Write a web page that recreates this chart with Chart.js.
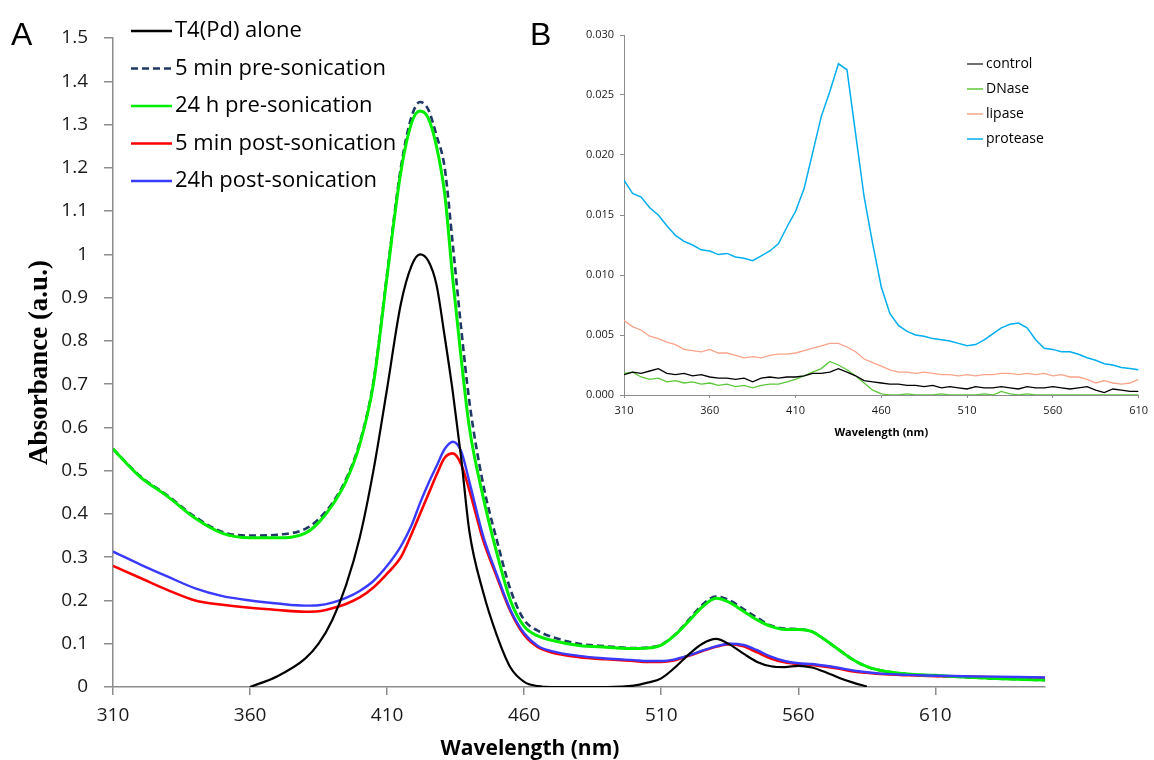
<!DOCTYPE html>
<html>
<head>
<meta charset="utf-8">
<script src="https://cdn.jsdelivr.net/npm/chart.js@4/dist/chart.umd.min.js"></script>
<style>
body { margin: 0; background: #fff; width: 1154px; height: 760px; overflow: hidden; position: relative; }
#wrapA { position: absolute; left: 0; top: 0; width: 1154px; height: 760px; }
#wrapB { position: absolute; left: 560px; top: 15px; width: 594px; height: 430px; }
.panel { position: absolute; top: 18px; font-family: 'Liberation Sans', Arial, sans-serif; font-size: 32px; line-height: 32px; color: #000; }
#xTitleA { position: absolute; left: 380px; top: 737px; width: 300px; text-align: center; font-family: 'Open Sans', sans-serif; font-weight: bold; font-size: 21px; line-height: 21px; color: #000; }
</style>
</head>
<body>
<div id="wrapA"><canvas id="chartA"></canvas></div>
<div id="wrapB"><canvas id="chartB"></canvas></div>
<div class="panel" style="left:11px">A</div>
<div class="panel" style="left:530px">B</div>
<div id="xTitleA">Wavelength (nm)</div>
<script>
// ---- panel A : absorbance spectra ----
var wavelengthA = [
	310, 320, 330, 340, 350, 360, 370, 380,
	385, 390, 395, 400, 405, 410, 415,
	419, 422, 425, 428, 431, 434, 437,
	440, 445, 450, 455, 460, 465, 470,
	480, 490,
	500, 505, 510, 515, 520, 525, 530, 535, 540, 545,
	550, 555, 560, 565, 570, 575, 580, 585, 590,
	600, 610, 620, 630, 640, 650
];
var t4Alone = [
	null, null, null, null, null, 0, 0.025, 0.065,
	0.1, 0.155, 0.235, 0.345, 0.5, 0.69, 0.885,
	0.975, 1.0, 0.985, 0.93, 0.81, 0.68, 0.53,
	0.36, 0.22, 0.12, 0.045, 0.012, 0.002, 0,
	0, 0,
	0.003, 0.01, 0.02, 0.045, 0.075, 0.1, 0.111, 0.098, 0.077, 0.058,
	0.048, 0.046, 0.049, 0.045, 0.034, 0.021, 0.01, 0.001, null,
	null, null, null, null, null, null
];
var pre5min = [
	0.55, 0.487, 0.442, 0.393, 0.358, 0.35, 0.352, 0.365,
	0.388, 0.425, 0.48, 0.565, 0.705, 0.955, 1.2,
	1.32, 1.352, 1.335, 1.275, 1.2, 1.02, 0.83,
	0.66, 0.47, 0.34, 0.225, 0.155, 0.13, 0.116,
	0.1, 0.094,
	0.09, 0.091, 0.098, 0.121, 0.155, 0.19, 0.209, 0.2, 0.18, 0.16,
	0.142, 0.135, 0.134, 0.128, 0.108, 0.085, 0.063, 0.047, 0.038,
	0.03, 0.026, 0.023, 0.02, 0.018, 0.016
];
var pre24h = [
	0.55, 0.485, 0.44, 0.39, 0.355, 0.345, 0.345, 0.355,
	0.38, 0.42, 0.475, 0.56, 0.70, 0.95, 1.19,
	1.305, 1.331, 1.315, 1.25, 1.14, 0.94, 0.76,
	0.6, 0.44, 0.31, 0.2, 0.14, 0.118, 0.108,
	0.096, 0.092,
	0.089, 0.09, 0.097, 0.12, 0.152, 0.185, 0.205, 0.195, 0.175, 0.155,
	0.14, 0.133, 0.133, 0.128, 0.108, 0.085, 0.063, 0.047, 0.038,
	0.03, 0.027, 0.023, 0.02, 0.018, 0.016
];
var post5min = [
	0.28, 0.252, 0.224, 0.2, 0.19, 0.183, 0.178, 0.174,
	0.175, 0.182, 0.192, 0.207, 0.23, 0.262, 0.3,
	0.355, 0.4, 0.445, 0.49, 0.53, 0.54, 0.515,
	0.455, 0.34, 0.255, 0.175, 0.12, 0.092, 0.08,
	0.069, 0.064,
	0.06, 0.058, 0.058, 0.062, 0.072, 0.083, 0.093, 0.099, 0.094, 0.08,
	0.066, 0.057, 0.053, 0.051, 0.047, 0.042, 0.036, 0.033, 0.03,
	0.027, 0.025, 0.024, 0.023, 0.022, 0.021
];
var post24h = [
	0.313, 0.283, 0.255, 0.228, 0.21, 0.2, 0.193, 0.188,
	0.189, 0.195, 0.206, 0.222, 0.245, 0.28, 0.325,
	0.375, 0.425, 0.47, 0.51, 0.55, 0.567, 0.545,
	0.475, 0.35, 0.26, 0.178, 0.124, 0.095, 0.083,
	0.072, 0.066,
	0.062, 0.06, 0.06, 0.064, 0.073, 0.084, 0.094, 0.1, 0.097, 0.085,
	0.07, 0.06, 0.055, 0.053, 0.049, 0.044, 0.038, 0.034, 0.031,
	0.028, 0.026, 0.025, 0.024, 0.023, 0.022
];
var xTicksA = [310, 360, 410, 460, 510, 560, 610];
var yTicksA = [0, 0.1, 0.2, 0.3, 0.4, 0.5, 0.6, 0.7, 0.8, 0.9, 1, 1.1, 1.2, 1.3, 1.4, 1.5];
var yLabelsA = ['0', '0.1', '0.2', '0.3', '0.4', '0.5', '0.6', '0.7', '0.8', '0.9', '1', '1.1', '1.2', '1.3', '1.4', '1.5'];

// ---- panel B : enzyme treatments ----
var wavelengthB = [
	310, 315, 320, 325, 330, 335, 340, 345, 350, 355,
	360, 365, 370, 375, 380, 385, 390, 395, 400, 405,
	410, 415, 420, 425, 430, 435, 440, 445, 450, 455,
	460, 465, 470, 475, 480, 485, 490, 495, 500, 505,
	510, 515, 520, 525, 530, 535, 540, 545, 550, 555,
	560, 565, 570, 575, 580, 585, 590, 595, 600, 605,
	610
];
var control = [
	0.0017, 0.0019, 0.0018, 0.0020, 0.0022, 0.0018, 0.0017, 0.0018, 0.0016, 0.0017,
	0.0015, 0.0014, 0.0014, 0.0013, 0.0014, 0.0011, 0.0014, 0.0015, 0.0014, 0.0015,
	0.0015, 0.0016, 0.0018, 0.0018, 0.0019, 0.0022, 0.0019, 0.0016, 0.0012, 0.0011,
	0.0010, 0.0009, 0.0009, 0.0008, 0.0008, 0.0007, 0.0008, 0.0006, 0.0007, 0.0006,
	0.0005, 0.0007, 0.0006, 0.0006, 0.0007, 0.0006, 0.0005, 0.0007, 0.0006, 0.0006,
	0.0007, 0.0006, 0.0005, 0.0006, 0.0007, 0.0004, 0.0002, 0.0005, 0.0004, 0.0003,
	0.0003
];
var dnase = [
	0.0018, 0.0019, 0.0015, 0.0013, 0.0014, 0.0011, 0.0012, 0.0010, 0.0011, 0.0009,
	0.0010, 0.0008, 0.0009, 0.0007, 0.0008, 0.0006, 0.0008, 0.0009, 0.0009, 0.0011,
	0.0013, 0.0016, 0.0019, 0.0022, 0.0028, 0.0025, 0.0021, 0.0016, 0.0010, 0.0004,
	0.0001, 0, 0, 0.0001, 0, 0, 0, 0.0001, 0, 0,
	0, 0, 0.0001, 0, 0.0003, 0.0001, 0, 0.0001, 0, 0,
	0, 0, 0, 0, 0, 0, 0, 0, 0, 0,
	0
];
var lipase = [
	0.0062, 0.0057, 0.0054, 0.0049, 0.0047, 0.0044, 0.0042, 0.0038, 0.0037, 0.0036,
	0.0038, 0.0035, 0.0035, 0.0033, 0.0031, 0.0032, 0.0031, 0.0033, 0.0034, 0.0034,
	0.0035, 0.0037, 0.0039, 0.0041, 0.0043, 0.0043, 0.0040, 0.0036, 0.0030, 0.0027,
	0.0024, 0.0021, 0.0019, 0.0019, 0.0018, 0.0019, 0.0018, 0.0017, 0.0017, 0.0016,
	0.0017, 0.0016, 0.0017, 0.0017, 0.0018, 0.0018, 0.0017, 0.0018, 0.0017, 0.0018,
	0.0016, 0.0017, 0.0015, 0.0015, 0.0013, 0.0010, 0.0012, 0.0010, 0.0009, 0.0010,
	0.0013
];
var protease = [
	0.0179, 0.0168, 0.0165, 0.0156, 0.0150, 0.0141, 0.0133, 0.0128, 0.0125, 0.0121,
	0.0120, 0.0117, 0.0118, 0.0115, 0.0114, 0.0112, 0.0116, 0.0120, 0.0126, 0.0140,
	0.0153, 0.0172, 0.0202, 0.0232, 0.0253, 0.0276, 0.0271, 0.0218, 0.0165, 0.0126,
	0.0090, 0.0068, 0.0058, 0.0053, 0.0050, 0.0049, 0.0047, 0.0046, 0.0045, 0.0043,
	0.0041, 0.0042, 0.0046, 0.0051, 0.0056, 0.0059, 0.0060, 0.0056, 0.0046, 0.0039,
	0.0038, 0.0036, 0.0036, 0.0034, 0.0031, 0.0029, 0.0026, 0.0025, 0.0023, 0.0022,
	0.0021
];
var xTicksB = [310, 360, 410, 460, 510, 560, 610];
var yTicksB = [0, 0.005, 0.01, 0.015, 0.02, 0.025, 0.03];
var yLabelsB = ['0.000', '0.005', '0.010', '0.015', '0.020', '0.025', '0.030'];

var fontSans = "'Open Sans', 'Noto Sans', sans-serif";
var axisGray = '#8c8c8c';

function points(xs, ys) {
	return xs.map(function (x, i) { return { x: x, y: ys[i] }; });
}

function fixedTicks(list) {
	return function (scale) {
		scale.ticks = list.map(function (v) { return { value: v }; });
	};
}

// legend drawn as short line samples beside the labels, placed from the chart area corner
var lineLegend = {
	id: 'lineLegend',
	afterDraw: function (chart, args, opts) {
		var ctx = chart.ctx;
		var area = chart.chartArea;
		ctx.save();
		ctx.font = opts.font;
		ctx.textBaseline = 'middle';
		chart.data.datasets.forEach(function (ds, i) {
			var x = area.left + opts.x;
			var y = area.top + opts.y + i * opts.gap;
			ctx.beginPath();
			ctx.setLineDash(ds.borderDash || []);
			ctx.strokeStyle = ds.legendColor || ds.borderColor;
			ctx.lineWidth = opts.lineWidth || ds.borderWidth;
			ctx.moveTo(x, y);
			ctx.lineTo(x + opts.len, y);
			ctx.stroke();
			ctx.setLineDash([]);
			ctx.fillStyle = '#000';
			ctx.fillText(ds.label, x + opts.len + opts.pad, y);
		});
		ctx.restore();
	}
};

var chartA = new Chart(document.getElementById('chartA'), {
	type: 'line',
	data: {
		datasets: [
			{ label: 'T4(Pd) alone', data: points(wavelengthA, t4Alone), borderColor: '#000000', borderWidth: 2.2, order: 0 },
			{ label: '5 min pre-sonication', data: points(wavelengthA, pre5min), borderColor: '#1f3864', borderWidth: 2.6, borderDash: [7, 4], order: 4 },
			{ label: '24 h pre-sonication', data: points(wavelengthA, pre24h), borderColor: '#00ee00', borderWidth: 3, order: 2 },
			{ label: '5 min post-sonication', data: points(wavelengthA, post5min), borderColor: '#ff0000', borderWidth: 2.6, order: 3 },
			{ label: '24h post-sonication', data: points(wavelengthA, post24h), borderColor: '#3a3aff', borderWidth: 2.4, order: 1 }
		]
	},
	options: {
		responsive: true,
		maintainAspectRatio: false,
		animation: false,
		layout: { padding: { left: 0, top: 38, right: 109, bottom: 0 } },
		elements: {
			point: { radius: 0 },
			line: { cubicInterpolationMode: 'monotone', fill: false }
		},
		plugins: {
			legend: { display: false },
			tooltip: { enabled: false },
			lineLegend: { x: 18, y: -7, gap: 37.5, len: 41, pad: 3, lineWidth: 2.5, font: '22px ' + fontSans }
		},
		scales: {
			x: {
				type: 'linear',
				min: 310,
				max: 650,
				afterBuildTicks: fixedTicks(xTicksA),
				afterFit: function (s) { s.height = 73; },
				border: { color: axisGray, width: 1.5 },
				grid: { drawOnChartArea: false, drawTicks: true, tickLength: 8, color: axisGray, lineWidth: 1.5 },
				ticks: { autoSkip: false, maxRotation: 0, padding: 9, color: '#1a1a1a', font: { family: fontSans, size: 19 } }
			},
			y: {
				type: 'linear',
				min: 0,
				max: 1.5,
				afterBuildTicks: fixedTicks(yTicksA),
				afterFit: function (s) { s.width = 113; },
				border: { color: axisGray, width: 1.5 },
				grid: { drawOnChartArea: false, drawTicks: true, tickLength: 9, color: axisGray, lineWidth: 1.5 },
				ticks: {
					autoSkip: false,
					padding: 16,
					color: '#1a1a1a',
					font: { family: fontSans, size: 19 },
					callback: function (v, i) { return yLabelsA[i]; }
				},
				title: {
					display: true,
					text: 'Absorbance (a.u.)',
					color: '#000',
					font: { family: "'Liberation Serif', 'DejaVu Serif', serif", size: 27, weight: 'bold' },
					padding: { top: 24, bottom: 0 }
				}
			}
		}
	},
	plugins: [lineLegend]
});

var chartB = new Chart(document.getElementById('chartB'), {
	type: 'line',
	data: {
		datasets: [
			{ label: 'control', data: points(wavelengthB, control), borderColor: '#000000', legendColor: '#404040', borderWidth: 1.3 },
			{ label: 'DNase', data: points(wavelengthB, dnase), borderColor: '#5cc83a', borderWidth: 1.3 },
			{ label: 'lipase', data: points(wavelengthB, lipase), borderColor: '#f9a48a', borderWidth: 1.3 },
			{ label: 'protease', data: points(wavelengthB, protease), borderColor: '#00aeef', borderWidth: 1.5 }
		]
	},
	options: {
		responsive: true,
		maintainAspectRatio: false,
		animation: false,
		layout: { padding: { left: 0, top: 20, right: 11, bottom: 0 } },
		elements: {
			point: { radius: 0 },
			line: { tension: 0, fill: false }
		},
		plugins: {
			legend: { display: false },
			tooltip: { enabled: false },
			lineLegend: { x: 343, y: 29, gap: 25, len: 16, pad: 3, lineWidth: 1.5, font: '14px ' + fontSans }
		},
		scales: {
			x: {
				type: 'linear',
				min: 310,
				max: 610,
				afterBuildTicks: fixedTicks(xTicksB),
				afterFit: function (s) { s.height = 50; },
				border: { color: axisGray, width: 1 },
				grid: { drawOnChartArea: false, drawTicks: true, tickLength: 3, color: axisGray },
				ticks: { autoSkip: false, maxRotation: 0, padding: 6, color: '#1a1a1a', font: { family: fontSans, size: 11 } },
				title: {
					display: true,
					text: 'Wavelength (nm)',
					color: '#000',
					font: { family: fontSans, size: 11, weight: 'bold' },
					padding: { top: 0, bottom: 6 }
				}
			},
			y: {
				type: 'linear',
				min: 0,
				max: 0.03,
				afterBuildTicks: fixedTicks(yTicksB),
				afterFit: function (s) { s.width = 64; },
				border: { color: axisGray, width: 1 },
				grid: { drawOnChartArea: false, drawTicks: true, tickLength: 4, color: axisGray },
				ticks: {
					autoSkip: false,
					padding: 6,
					color: '#1a1a1a',
					font: { family: fontSans, size: 11 },
					callback: function (v, i) { return yLabelsB[i]; }
				}
			}
		}
	},
	plugins: [lineLegend]
});
</script>
</body>
</html>
